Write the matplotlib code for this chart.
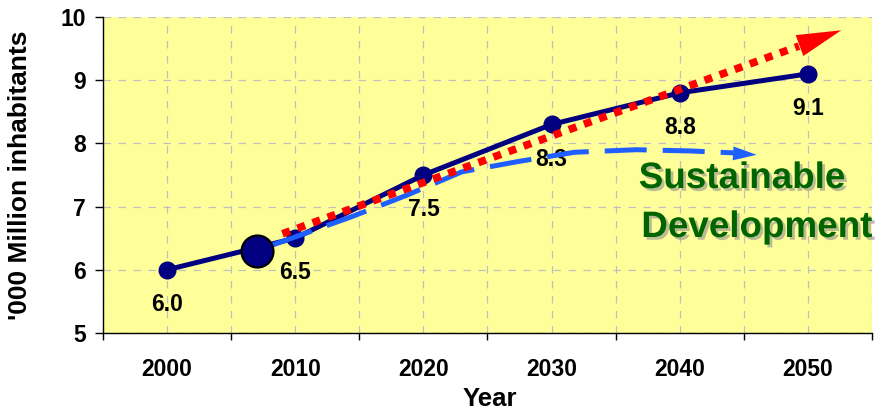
import numpy as np
import matplotlib.pyplot as plt
import matplotlib.patheffects as pe

plt.rcParams['font.family'] = ['Liberation Sans', 'DejaVu Sans']
plt.rcParams['font.weight'] = 'bold'

# world population, thousand million
years = ['2000', '2010', '2020', '2030', '2040', '2050']
population = [6.0, 6.5, 7.5, 8.3, 8.8, 9.1]

# "today" marker on the curve
now_x = 0.7
now_y = 6.3

# red dotted trend (business as usual), last entry is the arrow tip
trend_x = [0.9, 4.93, 5.26]
trend_y = [6.57, 9.54, 9.79]

# blue dashed sustainable path, last entry is the arrow tip
sust_x = [0.82, 1.44, 1.87, 2.30, 2.73, 3.18, 3.66, 4.09, 4.42, 4.60]
sust_y = [6.39, 6.84, 7.18, 7.55, 7.71, 7.86, 7.90, 7.88, 7.85, 7.82]

navy = '#000080'
red = '#FF0000'
blue = '#1F5EFF'
green = '#006400'

fig = plt.figure(figsize=(8.77, 4.11), dpi=100)
ax = fig.add_axes([103/877, 1-333/411, 769/877, 316/411])
ax.set_facecolor('#FFFF99')

x = np.arange(len(years))
ax.set_xlim(-0.5, len(years) - 0.5)
ax.set_ylim(5, 10)

# grid: dashed grey, vertical every half category
for gx in np.arange(-0.5, len(years), 0.5):
    ax.axvline(gx, color='#C0C0C0', lw=0.9, dashes=(6, 6), zorder=0.5)
for gy in range(5, 11):
    ax.axhline(gy, color='#C0C0C0', lw=0.9, dashes=(6, 6), zorder=0.5)

for s in ['top', 'right']:
    ax.spines[s].set_visible(False)
for s in ['left', 'bottom']:
    ax.spines[s].set_linewidth(1.0)

ax.set_xticks(np.arange(-0.5, len(years), 1.0))
ax.set_xticklabels([])
ax.set_xticks(x, minor=True)
ax.set_xticklabels(years, minor=True, fontsize=16.5, fontweight='bold')
ax.tick_params(axis='x', which='major', direction='out', length=5, width=1)
ax.tick_params(axis='x', which='minor', length=0, pad=18)
ax.set_yticks(range(5, 11))
ax.set_yticklabels([str(v) for v in range(5, 11)], fontsize=16.5, fontweight='bold')
ax.tick_params(axis='y', direction='out', length=5.5, width=1, pad=7)

ax.set_xlabel('Year', fontsize=18.5, fontweight='bold')
ax.xaxis.set_label_coords(0.503, -0.172)
ax.set_ylabel("'000 Million inhabitants", fontsize=19, fontweight='bold')
ax.yaxis.set_label_coords(-0.092, 0.5)

# main population curve
ax.plot(x, population, color=navy, lw=3.6, marker='o', ms=12, zorder=2)
for xi, v in zip(x, population):
    ax.annotate(f'{v:.1f}', (xi, v), xytext=(0, -25), textcoords='offset points',
                ha='center', va='center', fontsize=16.5, fontweight='bold', zorder=3)

ax.plot([now_x], [now_y], 'o', ms=23, color=navy, mec='black', mew=1.6, zorder=6)

# sustainable development path
ax.plot(sust_x[:-1], sust_y[:-1], color=blue, lw=3.6, dashes=(8.4, 3.2),
        solid_capstyle='butt', dash_capstyle='butt', zorder=4)
ax.annotate('', xy=(sust_x[-1], sust_y[-1]), xytext=(sust_x[-3], sust_y[-3]),
            arrowprops=dict(arrowstyle='-|>,head_length=17,head_width=5',
                            color=blue, lw=0, mutation_scale=1,
                            shrinkA=0, shrinkB=0), zorder=4)

# trend arrow
ax.plot(trend_x[:-1], trend_y[:-1], color=red, lw=5.5, dashes=(1.05, 1.05),
        dash_capstyle='butt', zorder=5)
ax.annotate('', xy=(trend_x[-1], trend_y[-1]), xytext=(trend_x[-2] - 0.1, trend_y[-2] - 0.07),
            arrowprops=dict(arrowstyle='-|>,head_length=32,head_width=8',
                            color=red, lw=0, mutation_scale=1,
                            shrinkA=0, shrinkB=0), zorder=5)

shadow = [pe.withSimplePatchShadow(offset=(2, -2), shadow_rgbFace='#909090', alpha=0.6)]
ax.text(3.68, 7.294, 'Sustainable', color=green, fontsize=26.5, fontweight='bold',
        ha='left', va='baseline', zorder=7, path_effects=shadow)
ax.text(3.70, 6.519, 'Development', color=green, fontsize=26.5, fontweight='bold',
        ha='left', va='baseline', zorder=7, path_effects=shadow)

fig.savefig('out.png', dpi=100)
